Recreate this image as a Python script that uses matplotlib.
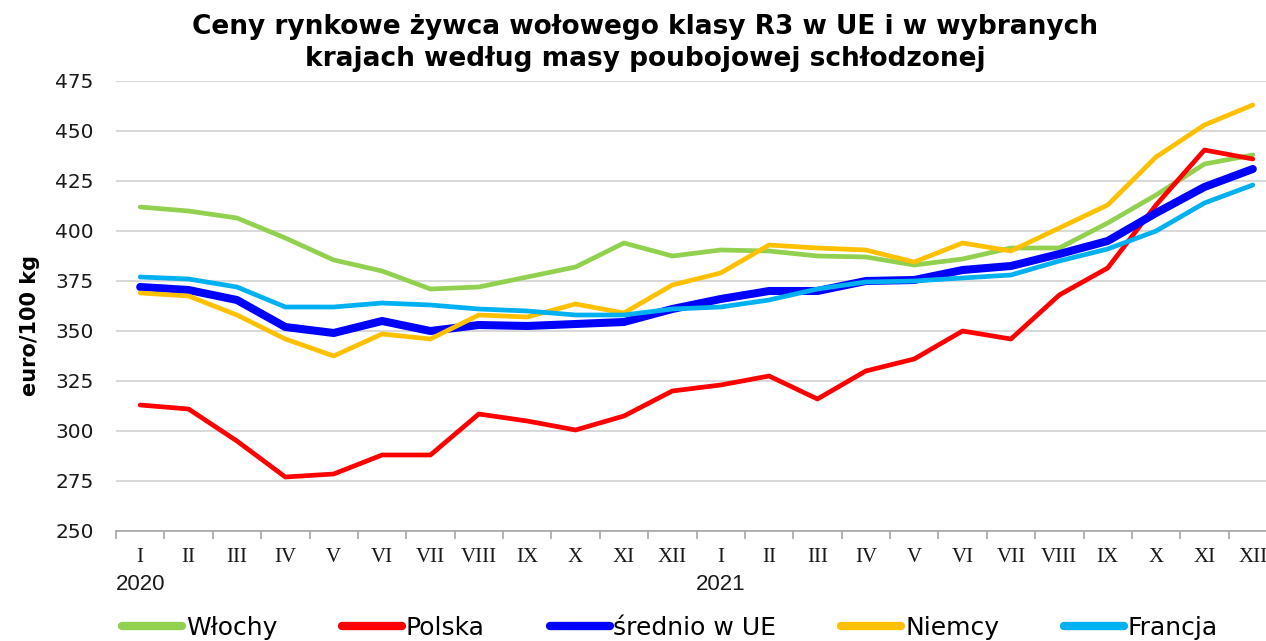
import matplotlib
matplotlib.use("Agg")
import matplotlib.pyplot as plt

# miesiące 2020-2021
MONTHS = ["I", "II", "III", "IV", "V", "VI", "VII", "VIII", "IX", "X", "XI", "XII"] * 2
YEARS = {0: "2020", 12: "2021"}

WLOCHY = [412, 410, 406.5, 396.5, 385.5, 380, 371, 372, 377, 382, 394, 387.5,
          390.5, 390, 387.5, 387, 383, 386, 391.5, 391.5, 404, 418, 433.5, 438]
POLSKA = [313, 311, 295, 277, 278.5, 288, 288, 308.5, 305, 300.5, 307.5, 320,
          323, 327.5, 316, 330, 336, 350, 346, 368, 381.5, 413, 440.5, 436]
SREDNIO_UE = [372, 370.5, 365.5, 352, 349, 355, 350, 353, 352.5, 353.5, 354.5, 361,
              366, 370, 370, 375, 375.5, 380.5, 382.5, 388.5, 395, 409, 422, 431]
NIEMCY = [369, 367.5, 358, 346, 337.5, 348.5, 346, 358, 357, 363.5, 359, 373,
          379, 393, 391.5, 390.5, 384.5, 394, 390, 401.5, 413, 437, 453, 463]
FRANCJA = [377, 376, 372, 362, 362, 364, 363, 361, 360, 358, 358, 361,
           362, 365.5, 371, 374.5, 375, 376.5, 378, 385, 391, 400, 414, 423]

SERIES = [
    ("Włochy", WLOCHY, "#92D050", 3.4),
    ("Polska", POLSKA, "#FF0000", 3.4),
    ("średnio w UE", SREDNIO_UE, "#0000FF", 5.8),
    ("Niemcy", NIEMCY, "#FFC000", 3.4),
    ("Francja", FRANCJA, "#00B0F0", 3.4),
]

fig = plt.figure(figsize=(12.66, 6.41), dpi=100)
ax = fig.add_axes([116 / 1266, 110 / 641, 1161 / 1266, 450 / 641])

x = list(range(len(MONTHS)))
for name, values, color, lw in SERIES:
    ax.plot(x, values, color=color, lw=lw, label=name,
            solid_capstyle="round", solid_joinstyle="round")

ax.set_xlim(-0.5, len(MONTHS) - 0.5)
ax.set_ylim(250, 475)
ax.set_yticks(range(250, 476, 25))
ax.grid(axis="y", color="#d9d9d9", lw=1.5)
ax.set_axisbelow(True)
for side in ["left", "right", "top"]:
    ax.spines[side].set_visible(False)
ax.spines["bottom"].set_color("#a6a6a6")
ax.spines["bottom"].set_linewidth(1.2)
ax.tick_params(axis="y", length=0, pad=16, labelsize=14.5, labelcolor="#1a1a1a")

# znaczniki między kategoriami
ax.set_xticks([i - 0.5 for i in range(len(MONTHS) + 1)])
ax.set_xticklabels([])
ax.tick_params(axis="x", length=6, width=1.2, color="#a6a6a6")

for i, m in enumerate(MONTHS):
    ax.text(i, -0.06, m, transform=ax.get_xaxis_transform(), ha="center", va="center",
            fontsize=15, family="Liberation Serif", color="#1a1a1a")
for i, yr in YEARS.items():
    ax.text(i, -0.12, yr, transform=ax.get_xaxis_transform(), ha="center", va="center",
            fontsize=16, family=["Liberation Sans Narrow", "Liberation Sans"], color="#1a1a1a")

fig.text(30 / 1266, 1 - 326 / 641, "euro/100 kg", rotation=90, ha="center", va="center",
         fontsize=15, fontweight="bold")
fig.text(645 / 1266, 1 - 27 / 641, "Ceny rynkowe żywca wołowego klasy R3 w UE i w wybranych",
         ha="center", va="center", fontsize=19, fontweight="bold")
fig.text(645 / 1266, 1 - 59 / 641, "krajach według masy poubojowej schłodzonej",
         ha="center", va="center", fontsize=19, fontweight="bold")

leg = fig.legend(loc="center", bbox_to_anchor=((633 + 37) / 1266, 13 / 641), ncol=5, frameon=False,
                 fontsize=18, handlelength=2.4, handletextpad=0.15, columnspacing=2.6)
for h in leg.get_lines():
    h.set_linewidth(6)
    h.set_solid_capstyle("round")

fig.savefig("out.png", dpi=100)
